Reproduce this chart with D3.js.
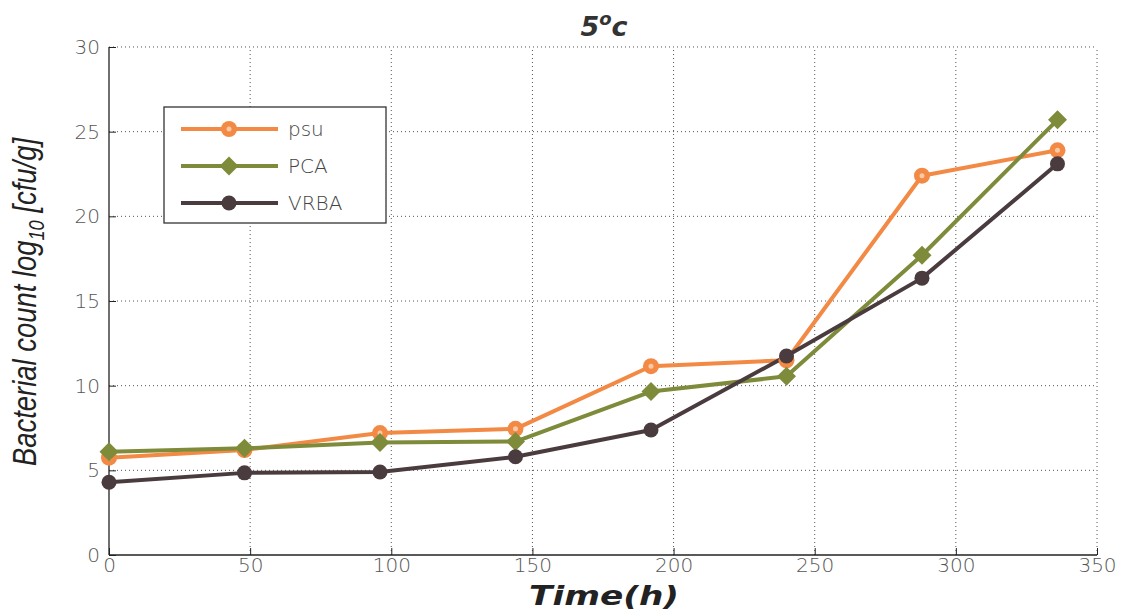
<!DOCTYPE html>
<html><head><meta charset="utf-8">
<script src="https://cdn.jsdelivr.net/npm/d3@7"></script>
<style>body{margin:0;background:#fff}</style>
</head><body>
<svg id="c" width="1122" height="610"></svg>
<script>
const hours = [0, 48, 96, 144, 192, 240, 288, 336];
const psu  = [5.75, 6.2, 7.2, 7.45, 11.15, 11.5, 22.4, 23.9];
const pca  = [6.1, 6.3, 6.65, 6.7, 9.65, 10.55, 17.7, 25.7];
const vrba = [4.3, 4.85, 4.9, 5.8, 7.38, 11.75, 16.35, 23.1];
const seriesNames = ["psu", "PCA", "VRBA"];
const seriesColors = ["#F28A45", "#7D8B3A", "#4A3C3E"];
const seriesMarkers = ["circle", "diamond", "dot"];
const xTicks = [0, 50, 100, 150, 200, 250, 300, 350];
const yTicks = [0, 5, 10, 15, 20, 25, 30];

const series = [psu, pca, vrba];
const svg = d3.select("#c");
const m = {l:109, r:1097, t:47, b:555};
const x = d3.scaleLinear().domain([0,350]).range([m.l,m.r]);
const y = d3.scaleLinear().domain([0,30]).range([m.b,m.t]);

// grid
const g = svg.append("g");
xTicks.slice(1).forEach(t => g.append("line").attr("x1",x(t)).attr("x2",x(t)).attr("y1",m.b).attr("y2",m.t)
  .attr("stroke","#555").attr("stroke-width",1).attr("stroke-dasharray","1,3"));
yTicks.slice(1).forEach(t => g.append("line").attr("y1",y(t)).attr("y2",y(t)).attr("x1",m.l).attr("x2",m.r)
  .attr("stroke","#555").attr("stroke-width",1).attr("stroke-dasharray","1,3"));

// axes
const xa = svg.append("g").attr("transform",`translate(0,${m.b})`)
  .call(d3.axisBottom(x).tickValues(xTicks).tickSize(-7).tickPadding(3));
const ya = svg.append("g").attr("transform",`translate(${m.l},0)`)
  .call(d3.axisLeft(y).tickValues(yTicks).tickSize(-7).tickPadding(9));
[xa,ya].forEach(a=>{
  a.select(".domain").attr("stroke","#222").attr("stroke-width",1.3);
  a.selectAll(".tick line").attr("stroke","#222");
  a.selectAll(".tick text").attr("font-family","'DejaVu Sans', sans-serif").attr("font-weight","200")
   .attr("font-size",20).attr("fill","#555");
});
xa.select(".domain").attr("d",`M${m.l},0H${m.r}`);
ya.select(".domain").attr("d",`M0,${m.b}V${m.t}`);

// lines
const line = d3.line().x((d,i)=>x(hours[i])).y(d=>y(d));
function marker(sel, type, cx, cy, col){
  if(type==="diamond"){
    sel.append("path").attr("d",`M${cx},${cy-9.5}L${cx+9.5},${cy}L${cx},${cy+9.5}L${cx-9.5},${cy}Z`).attr("fill",col);
  } else if(type==="circle"){
    sel.append("circle").attr("cx",cx).attr("cy",cy).attr("r",8).attr("fill",col);
    sel.append("circle").attr("cx",cx).attr("cy",cy).attr("r",2.5).attr("fill","#f7c9a5");
  } else {
    sel.append("circle").attr("cx",cx).attr("cy",cy).attr("r",7.5).attr("fill",col);
  }
}
series.forEach((s,k)=>{
  svg.append("path").datum(s).attr("d",line).attr("fill","none")
    .attr("stroke",seriesColors[k]).attr("stroke-width",4).attr("stroke-linejoin","round");
});
series.forEach((s,k)=>{
  const mg = svg.append("g");
  s.forEach((v,i)=>marker(mg, seriesMarkers[k], x(hours[i]), y(v), seriesColors[k]));
});

// legend
const lg = svg.append("g");
lg.append("rect").attr("x",164).attr("y",107).attr("width",222).attr("height",116)
  .attr("fill","#fff").attr("stroke","#333").attr("stroke-width",1.3);
seriesNames.forEach((n,k)=>{
  const yy = 129 + k*37;
  lg.append("line").attr("x1",181).attr("x2",278).attr("y1",yy).attr("y2",yy)
    .attr("stroke",seriesColors[k]).attr("stroke-width",4);
  marker(lg, seriesMarkers[k], 229, yy, seriesColors[k]);
  lg.append("text").attr("x",288).attr("y",yy+7).text(n)
    .attr("font-family","'DejaVu Sans', sans-serif").attr("font-weight","200").attr("font-size",20).attr("fill","#444");
});

// title
svg.append("text").attr("x",604).attr("y",36).attr("text-anchor","middle")
  .attr("font-family","'DejaVu Sans', sans-serif").attr("font-weight","bold").attr("font-style","italic")
  .attr("font-size",27).attr("fill","#333")
  .html('5<tspan font-size="18" dy="-11">o</tspan><tspan dy="11">c</tspan>');

// x label
svg.append("text").attr("x",604).attr("y",605).attr("text-anchor","middle")
  .attr("font-family","'DejaVu Sans', sans-serif").attr("font-weight","bold").attr("font-style","italic")
  .attr("font-size",26).attr("fill","#222").attr("textLength",150).attr("lengthAdjust","spacingAndGlyphs").text("Time(h)");

// y label
svg.append("text").attr("transform","translate(36,302) rotate(-90)").attr("text-anchor","middle")
  .attr("font-family","'Liberation Sans Narrow', 'Liberation Sans', Arial, sans-serif").attr("font-style","italic")
  .attr("font-size",33).attr("fill","#222").attr("textLength",328).attr("lengthAdjust","spacingAndGlyphs")
  .html('Bacterial count log<tspan font-size="22" dy="8">10</tspan><tspan dy="-8"> [cfu/g]</tspan>');
</script>
</body></html>
